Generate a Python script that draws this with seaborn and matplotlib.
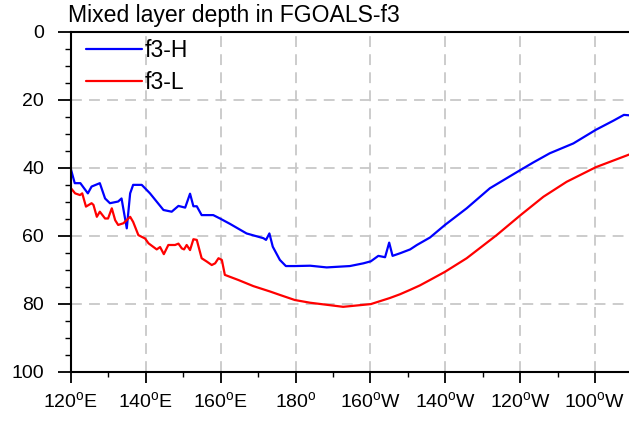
import numpy as np
import pandas as pd
import matplotlib
matplotlib.use("Agg")
import matplotlib.pyplot as plt
import seaborn as sns
from matplotlib.lines import Line2D

# ---- data ----
lon_h = [120.0, 121.0, 122.5, 124.5, 125.5, 127.7, 129.1, 130.4, 132.6, 133.5,
         134.9, 135.8, 136.6, 138.9, 141.1, 144.7, 146.9, 148.7, 150.5, 151.8,
         152.7, 153.6, 154.9, 158.0, 159.8, 162.5, 166.9, 171.4, 172.1, 173.0,
         173.9, 175.8, 177.4, 179.8, 183.9, 188.3, 194.5, 198.1, 200.1, 202.1,
         203.9, 205.0, 205.9, 208.0, 210.6, 212.4, 215.9, 219.9, 225.7, 231.9,
         240.1, 243.5, 247.9, 254.2, 260.2, 264.9, 267.7, 270.0]
mld_h = [40.5, 44.5, 44.5, 47.5, 45.5, 44.5, 49.0, 50.4, 49.9, 49.0,
         57.8, 47.5, 45.0, 45.0, 47.5, 52.4, 52.9, 51.2, 51.7, 47.6,
         51.3, 51.3, 53.9, 53.9, 54.9, 56.5, 59.3, 60.7, 61.2, 59.3,
         63.2, 67.1, 68.9, 68.9, 68.8, 69.3, 68.9, 68.1, 67.5, 65.9,
         66.3, 62.0, 65.9, 65.1, 64.0, 62.7, 60.5, 56.8, 51.9, 46.0,
         40.6, 38.4, 35.7, 32.8, 28.8, 26.1, 24.4, 24.6]

lon_l = [120.0, 121.1, 122.4, 123.0, 124.0, 125.5, 126.0, 126.9, 127.7, 129.1,
         129.9, 130.9, 131.8, 132.6, 134.0, 135.8, 136.6, 138.0, 139.8, 140.7,
         142.9, 143.8, 144.8, 146.0, 147.8, 148.7, 149.6, 150.2, 150.9, 151.8,
         152.7, 153.6, 154.9, 156.3, 157.6, 158.5, 159.4, 160.3, 161.1, 164.7,
         168.7, 173.2, 175.8, 179.8, 183.9, 192.7, 200.1, 205.2, 207.9, 210.6,
         213.2, 215.9, 219.9, 225.7, 233.7, 240.1, 246.2, 252.4, 260.2, 270.0]
mld_l = [46.0, 47.5, 48.0, 47.5, 51.4, 50.4, 50.9, 54.4, 52.9, 54.9,
         54.9, 51.9, 55.4, 56.8, 56.3, 54.4, 55.9, 59.8, 60.8, 62.2,
         64.0, 63.3, 65.4, 62.7, 62.7, 62.3, 63.7, 64.0, 62.7, 64.2,
         61.0, 61.2, 66.6, 67.6, 68.6, 68.1, 66.6, 67.1, 71.5, 73.0,
         74.8, 76.4, 77.4, 78.9, 79.7, 80.9, 80.1, 78.3, 77.2, 75.9,
         74.6, 73.0, 70.6, 66.6, 59.8, 53.9, 48.5, 44.1, 39.8, 35.7]

series_names = ["f3-H", "f3-L"]
series_colors = ["#0000ff", "#ff0000"]

x_ticks = [120, 140, 160, 180, 200, 220, 240, 260]
x_labels = [r"120$^{\mathrm{o}}$E", r"140$^{\mathrm{o}}$E", r"160$^{\mathrm{o}}$E",
            r"180$^{\mathrm{o}}$", r"160$^{\mathrm{o}}$W", r"140$^{\mathrm{o}}$W",
            r"120$^{\mathrm{o}}$W", r"100$^{\mathrm{o}}$W"]
y_ticks = [0, 20, 40, 60, 80, 100]
title = "Mixed layer depth in FGOALS-f3"

df = pd.concat([
    pd.DataFrame({"lon": lon_h, "mld": mld_h, "run": series_names[0]}),
    pd.DataFrame({"lon": lon_l, "mld": mld_l, "run": series_names[1]}),
], ignore_index=True)

# ---- style ----
sns.set_theme(style="white")
plt.rcParams["font.family"] = ["Liberation Sans", "DejaVu Sans"]
plt.rcParams["mathtext.fontset"] = "custom"
plt.rcParams["mathtext.rm"] = "Liberation Sans"
plt.rcParams["text.color"] = "black"
plt.rcParams["xtick.color"] = "black"
plt.rcParams["ytick.color"] = "black"
plt.rcParams["xtick.labelcolor"] = "black"
plt.rcParams["ytick.labelcolor"] = "black"

W, H = 629, 421
fig = plt.figure(figsize=(W / 100, H / 100), dpi=100)
ax = fig.add_axes([71 / W, 1 - 371.7 / H, (632.5 - 71) / W, (371.7 - 32) / H])

sns.lineplot(data=df, x="lon", y="mld", hue="run", palette=series_colors,
             hue_order=series_names, estimator=None, sort=False,
             linewidth=1.6, ax=ax, legend=False)

ax.set_xlim(120, 270)
ax.set_ylim(100, 0)
ax.set_xlabel("")
ax.set_ylabel("")

ax.set_xticks(x_ticks)
ax.set_xticklabels(x_labels)
ax.set_xticks(np.arange(130, 270, 20), minor=True)
ax.set_yticks(y_ticks)
ax.set_yticks(np.arange(0, 101, 5), minor=True)

ax.tick_params(axis="x", which="major", direction="out", length=8, width=1.3,
               color="black", labelcolor="black", labelsize=14, pad=6, bottom=True)
ax.tick_params(axis="x", which="minor", direction="out", length=3.5, width=1.0,
               color="black", bottom=True)
ax.tick_params(axis="y", which="major", direction="out", length=9.5, width=1.3,
               color="black", labelcolor="black", labelsize=14, pad=10, left=True)
ax.tick_params(axis="y", which="minor", direction="out", length=4.3, width=1.0,
               color="black", left=True)

for s in ["top", "left", "bottom"]:
    ax.spines[s].set_visible(True)
    ax.spines[s].set_color("black")
    ax.spines[s].set_linewidth(1.5)
ax.spines["right"].set_visible(False)

ax.grid(True, which="major", color="#c8c8c8", linewidth=1.3,
        linestyle=(0, (6, 4)))
ax.set_axisbelow(True)

handles = [Line2D([0], [0], color=c, lw=1.6) for c in series_colors]
leg = ax.legend(handles, series_names, loc="upper left", frameon=False,
                fontsize=16.5, handlelength=2.45, handletextpad=0.1,
                labelspacing=0.4, borderpad=0, borderaxespad=0,
                bbox_to_anchor=(15 / 561.5, 1 - 7 / 339.7))
for t in leg.get_texts():
    t.set_color("black")

fig.text(68 / W, 1 - 21.7 / H, title, fontsize=16.6, ha="left", va="baseline",
         color="black")

fig.savefig("out.png", dpi=100)
